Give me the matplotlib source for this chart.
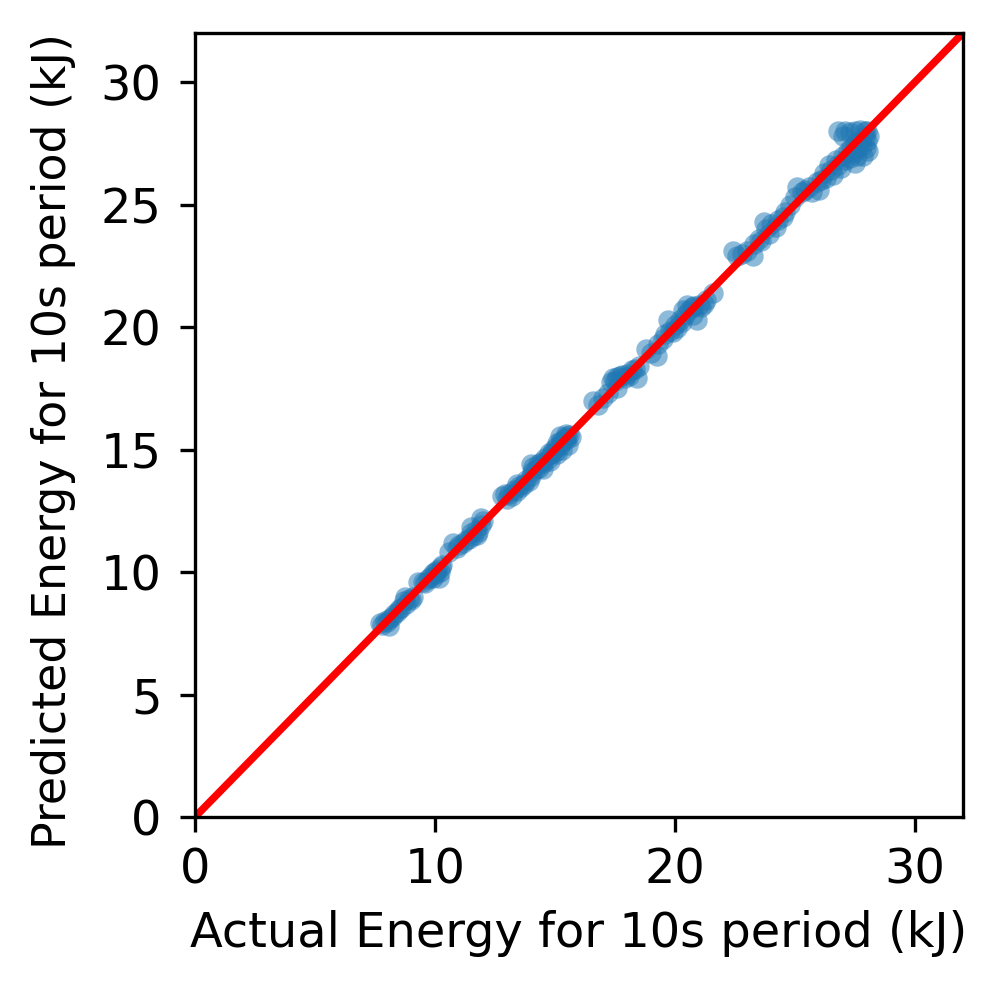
import matplotlib
matplotlib.use("Agg")
import matplotlib.pyplot as plt
import numpy as np

# actual vs predicted energy (kJ) per 10 s window
actual = [
    7.7, 7.8, 7.9, 8.0, 8.1, 8.2, 8.3, 8.4, 8.5, 8.6, 8.7, 8.8, 8.9, 9.0, 9.1, 8.75, 8.1,
    9.3, 9.5, 9.6, 9.7, 9.8, 9.9, 10.0, 10.05, 10.1, 10.2, 10.25, 10.3, 9.9, 10.15,
    10.6, 10.75, 10.9, 11.0, 11.15, 11.3, 11.4, 11.5, 11.6, 11.7, 11.8, 11.9, 12.0, 11.9, 11.5, 11.75,
    12.8, 12.9, 13.0, 13.1, 13.2, 13.3, 13.4, 13.5, 13.6, 13.7, 13.8, 13.9, 14.0, 13.4,
    14.05, 14.1, 14.2, 14.3, 14.35, 14.4, 14.5, 14.6, 14.7, 14.75, 14.85, 14.9, 15.0, 15.05,
    15.1, 15.2, 15.25, 15.3, 15.4, 15.45, 15.5, 15.6, 15.65, 15.55, 15.3, 15.1, 14.8, 14.5,
    15.2, 15.45, 14.0,
    16.6, 16.8, 17.0, 17.2, 17.35, 17.4, 17.5, 17.6, 17.7, 17.8, 17.9, 18.0, 18.1, 18.2,
    18.35, 18.4, 18.5, 17.6,
    18.8, 19.0, 19.25, 19.3, 19.5, 19.6, 19.7, 19.8, 19.9, 20.0, 20.1, 20.2, 20.3, 20.4,
    20.5, 20.6, 20.7, 20.8, 20.9, 21.0, 21.1, 21.2, 21.3, 21.6, 20.35, 20.75,
    22.4, 22.6, 22.8, 23.0, 23.25, 23.3, 23.5, 23.6, 23.8, 23.9, 24.0, 24.2, 24.3, 24.5,
    24.6, 23.7,
    24.8, 25.0, 25.1, 25.3, 25.4, 25.6, 25.7, 25.9, 26.0, 26.1, 26.2, 26.3, 26.4, 26.5,
    26.6, 26.7, 26.8, 26.9, 27.0, 27.1, 27.2, 27.3, 27.35, 27.4, 27.5, 27.6, 27.7, 27.8,
    27.9, 28.0, 28.0, 27.9, 27.7, 27.5, 27.3, 27.1, 26.8, 27.0, 28.05, 27.85, 27.6, 27.5,
    28.1, 27.95,
]
predicted = [
    7.9, 7.85, 8.0, 7.95, 8.1, 8.15, 8.3, 8.35, 8.5, 8.55, 8.8, 8.7, 8.9, 8.85, 9.0, 9.0, 7.8,
    9.6, 9.6, 9.55, 9.7, 9.8, 9.75, 10.0, 9.9, 10.1, 10.0, 10.2, 10.3, 9.95, 9.75,
    10.8, 11.2, 11.0, 11.1, 11.2, 11.3, 11.35, 11.6, 11.45, 11.7, 11.65, 11.9, 12.1, 12.2, 11.85, 11.5,
    13.1, 13.2, 13.0, 13.2, 13.1, 13.35, 13.3, 13.5, 13.45, 13.6, 13.75, 13.7, 13.9, 13.6,
    14.1, 14.3, 14.2, 14.4, 14.25, 14.5, 14.45, 14.65, 14.6, 14.85, 14.8, 15.0, 14.9, 15.1,
    15.25, 15.15, 15.35, 15.3, 15.45, 15.4, 15.55, 15.6, 15.5, 15.2, 15.0, 14.8, 14.55, 14.2,
    15.55, 15.65, 14.4,
    17.0, 16.8, 17.1, 17.3, 17.75, 17.9, 17.8, 17.95, 18.0, 18.05, 17.9, 18.1, 18.0, 18.25,
    18.3, 17.9, 18.4, 17.5,
    19.1, 18.95, 18.8, 19.3, 19.5, 19.7, 20.3, 19.85, 19.8, 20.1, 19.95, 20.3, 20.2, 20.5,
    20.9, 20.7, 20.8, 20.85, 20.3, 20.9, 20.8, 20.95, 21.1, 21.4, 20.7, 20.5,
    23.1, 22.9, 23.0, 23.1, 22.9, 23.4, 23.6, 23.5, 24.0, 23.8, 24.2, 24.1, 24.35, 24.5,
    24.7, 24.3,
    25.0, 25.3, 25.7, 25.5, 25.6, 25.7, 25.5, 25.9, 25.6, 26.0, 26.3, 26.1, 26.6, 26.4,
    26.2, 26.8, 26.6, 26.5, 27.0, 26.8, 27.2, 26.9, 27.3, 27.1, 27.5, 27.3, 27.6, 27.4,
    27.8, 27.6, 28.0, 28.0, 28.05, 28.0, 27.95, 28.0, 28.0, 27.8, 27.2, 27.0, 27.0, 26.7,
    27.8, 27.3,
]

lim = 32

plt.rcParams["font.size"] = 11.5

fig = plt.figure(figsize=(998 / 300, 996 / 300), dpi=300)
ax = fig.add_axes([195 / 998, 1 - 817 / 996, 768 / 998, 784 / 996])

ax.scatter(actual, predicted, s=24, alpha=0.5, color="#1f77b4", linewidths=0)
ax.plot([0, lim], [0, lim], color="red", linewidth=1.8)

ax.set_xlim(0, lim)
ax.set_ylim(0, lim)
ax.set_xticks([0, 10, 20, 30])
ax.set_yticks([0, 5, 10, 15, 20, 25, 30])
ax.tick_params(axis="y", pad=4.5)
ax.set_xlabel("Actual Energy for 10s period (kJ)")
ax.set_ylabel("Predicted Energy for 10s period (kJ)", fontsize=11.0)
ax.yaxis.set_label_coords(-0.155, 0.48)

fig.savefig("out.png", dpi=300)
plt.close(fig)
